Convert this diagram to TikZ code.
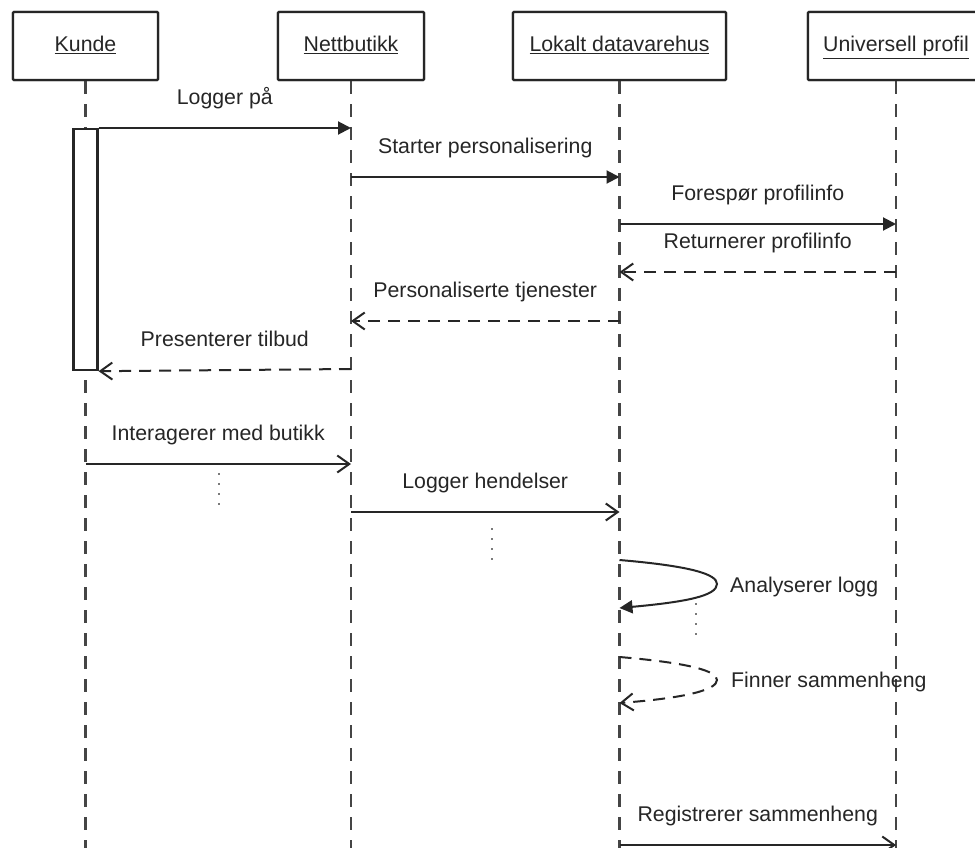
\documentclass[tikz,border=0pt]{standalone}
\usepackage{fontspec}
\setmainfont{Liberation Sans}
\usetikzlibrary{arrows.meta}
\definecolor{ink}{HTML}{262626}
\definecolor{life}{HTML}{454545}
\definecolor{dots}{HTML}{7A7A7A}

\begin{document}
\begin{tikzpicture}[x=1pt,y=-1pt,
  font=\fontsize{21.3}{25}\selectfont, text=ink,
  actor/.style={draw=ink, line width=2.2pt, fill=white, minimum height=68pt,
    inner sep=0pt, rounded corners=1pt},
  actorname/.style={anchor=base, inner sep=0pt},
  lifeline/.style={draw=life, line width=2.2pt, dash pattern=on 13pt off 10pt},
  activation/.style={draw=ink, line width=2.2pt, fill=white, inner sep=0pt,
    minimum width=24pt, anchor=north},
  call/.style={draw=ink, line width=2pt, -{Triangle[length=13pt,width=13pt]}},
  send/.style={draw=ink, line width=2pt, -{Straight Barb[length=12pt,width=17pt]}},
  reply/.style={send, dash pattern=on 12pt off 8pt},
  msg/.style={anchor=base, inner sep=0pt, yshift=23.5pt},
  note/.style={anchor=base west, inner sep=0pt},
  gap/.style={draw=dots, line width=1.8pt, dash pattern=on 1.8pt off 8.3pt}
]
\clip (0,0) rectangle (975,848);
\fill[white] (0,0) rectangle (975,848);

% participants
\node[actor, minimum width=145pt] (kunde)  at (85.5,46) {};
\node[actor, minimum width=146pt] (nett)   at (351,46)  {};
\node[actor, minimum width=213pt] (lager)  at (619.5,46) {};
\node[actor, minimum width=176pt] (profil) at (896,46)  {};

% message rows
\coordinate (bottom) at (0,850);
\coordinate (r1) at (0,128);
\coordinate (r2) at (0,177);
\coordinate (r3) at (0,224);
\coordinate (r4) at (0,272);
\coordinate (r5) at (0,321);
\coordinate (r6) at (0,369);
\coordinate (r7) at (0,464);
\coordinate (r8) at (0,512);
\coordinate (r9a) at (0,560);
\coordinate (r9b) at (0,608);
\coordinate (r10a) at (0,657);
\coordinate (r10b) at (0,703);
\coordinate (r11) at (0,845);

% lifelines
\draw[lifeline] (kunde.south)  -- (kunde.south |- bottom);
\draw[lifeline] (nett.south)   -- (nett.south |- bottom);
\draw[lifeline] (lager.south)  -- (lager.south |- bottom);
\draw[lifeline] (profil.south) -- (profil.south |- bottom);

% boxes again over the lifeline starts, then the names
\node[actor, minimum width=145pt] at (85.5,46) {};
\node[actor, minimum width=146pt] at (351,46)  {};
\node[actor, minimum width=213pt] at (619.5,46) {};
\node[actor, minimum width=176pt] at (896,46)  {};
\node[actorname] (kundeT)  at (85.5,52)  {\underline{Kunde}};
\node[actorname] (nettT)   at (351,52)   {\underline{Nettbutikk}};
\node[actorname] (lagerT)  at (619.5,52) {\underline{Lokalt datavarehus}};
\node[actorname] (profilT) at (896,52)   {\underline{Universell profil}};

% activation of the customer
\node[activation, minimum height=241pt] (act) at (kunde.south |- r1) {};

% messages
\draw[call] (act.north east) -- (nett.south |- r1)
  node[msg, midway] (m1) {Logger på};
\draw[call] (nett.south |- r2) -- (lager.south |- r2)
  node[msg, midway] (m2) {Starter personalisering};
\draw[call] (lager.south |- r3) -- (profil.south |- r3)
  node[msg, midway] (m3) {Forespør profilinfo};
\draw[reply] (profil.south |- r4) -- (lager.south |- r4)
  node[msg, midway] (m4) {Returnerer profilinfo};
\draw[reply] (lager.south |- r5) -- (nett.south |- r5)
  node[msg, midway] (m5) {Personaliserte tjenester};
\draw[reply] (nett.south |- r6) -- (act.south east)
  node[msg, midway] (m6) {Presenterer tilbud};
\draw[send] (kunde.south |- r7) -- (nett.south |- r7)
  node[msg, midway] (m7) {Interagerer med butikk};
\draw[send] (nett.south |- r8) -- (lager.south |- r8)
  node[msg, midway] (m8) {Logger hendelser};

% self messages of the warehouse
\coordinate (loop1) at (717,584);
\coordinate (loop2) at (717,680);
\draw[call] (lager.south |- r9a) .. controls (690,566) and (717,574) .. (loop1)
  .. controls (717,596) and (685,602) .. (lager.south |- r9b);
\node[note] (m9) at (730,592) {Analyserer logg};
\draw[reply] (lager.south |- r10a) .. controls (690,663) and (717,671) .. (loop2)
  .. controls (717,690) and (685,698) .. (lager.south |- r10b);
\node[note] (m10) at (731,687) {Finner sammenheng};

\draw[send] (lager.south |- r11) -- (profil.south |- r11)
  node[msg, midway] (m11) {Registrerer sammenheng};

% time gaps
\coordinate (g1a) at (219,473); \coordinate (g1b) at (219,506);
\coordinate (g2a) at (492,528); \coordinate (g2b) at (492,561);
\coordinate (g3a) at (696,603); \coordinate (g3b) at (696,637);
\draw[gap] (g1a) -- (g1b);
\draw[gap] (g2a) -- (g2b);
\draw[gap] (g3a) -- (g3b);
\end{tikzpicture}
\end{document}
